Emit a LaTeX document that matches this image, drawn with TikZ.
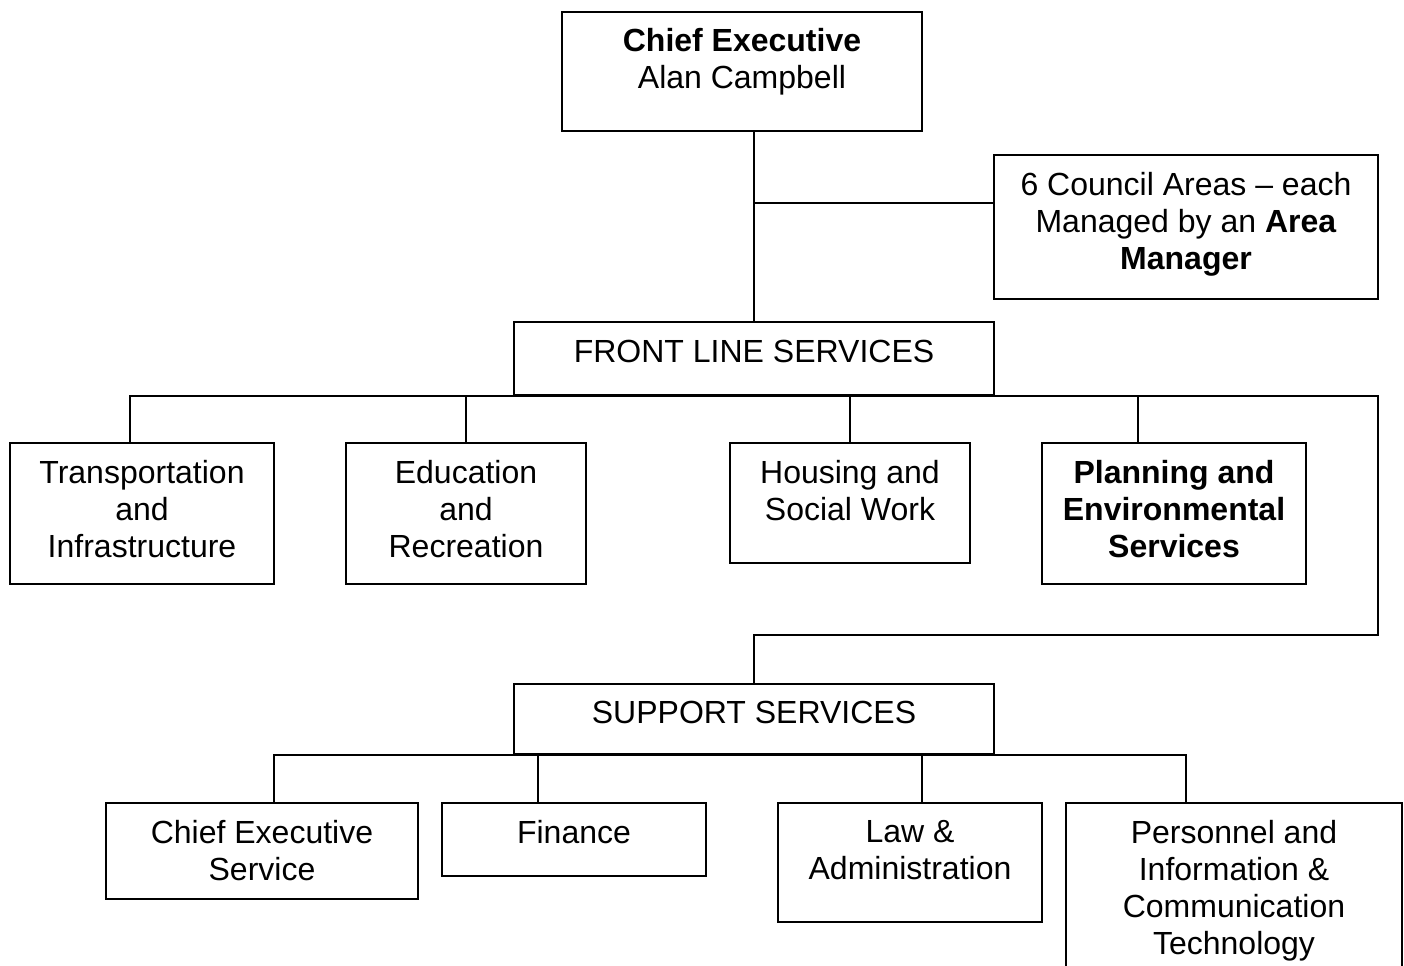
\documentclass[tikz,border=0pt]{standalone}
\usepackage{fontspec}
\setmainfont{Liberation Sans}
\usetikzlibrary{fit,calc}

\tikzset{every picture/.style={line width=1.5pt}}
\tikzset{
  unit/.style={draw, inner sep=0pt},
  boxtext/.style={anchor=north, align=center, inner sep=0pt,
    font=\fontsize{24}{27.75}\selectfont},
}

\begin{document}
\begin{tikzpicture}[x=0.75pt,y=0.75pt,yscale=-1,xscale=1]
	\useasboundingbox (0,0) rectangle (1404,966);

	% top of the chart
	\node[unit, fit={(562,12) (922,131)}] (chief) {};
	\node[unit, fit={(994,155) (1378,299)}] (council) {};
	\node[unit, fit={(514,322) (994,395)}] (front) {};

	% front line services
	\node[unit, fit={(10,443) (274,584)}] (trans) {};
	\node[unit, fit={(346,443) (586,584)}] (edu) {};
	\node[unit, fit={(730,443) (970,563)}] (house) {};
	\node[unit, fit={(1042,443) (1306,584)}] (plan) {};

	% support services
	\node[unit, fit={(514,684) (994,754)}] (support) {};
	\node[unit, fit={(106,803) (418,899)}] (cexs) {};
	\node[unit, fit={(442,803) (706,876)}] (finance) {};
	\node[unit, fit={(778,803) (1042,922)}] (law) {};
	\node[unit, fit={(1066,803) (1402,1000)}] (personnel) {};

	% Text Node
	\node[boxtext] (chief-t) at ($(chief.north)+(0,16)$) {\textbf{Chief Executive}\\Alan Campbell};
	% Text Node
	\node[boxtext] (council-t) at ($(council.north)+(0,17)$) {6 Council Areas \textendash{} each\\Managed by an \textbf{Area}\\\textbf{Manager}};
	% Text Node
	\node[boxtext] (front-t) at ($(front.north)+(0,18)$) {FRONT LINE SERVICES};
	% Text Node
	\node[boxtext] (trans-t) at ($(trans.north)+(0,17)$) {Transportation\\and\\Infrastructure};
	% Text Node
	\node[boxtext] (edu-t) at ($(edu.north)+(0,17)$) {Education\\and\\Recreation};
	% Text Node
	\node[boxtext] (house-t) at ($(house.north)+(0,17)$) {Housing and\\Social Work};
	% Text Node
	\node[boxtext, font=\fontsize{24}{27.75}\selectfont\bfseries] (plan-t) at ($(plan.north)+(0,17)$) {Planning and\\Environmental\\Services};
	% Text Node
	\node[boxtext] (support-t) at ($(support.north)+(0,17)$) {SUPPORT SERVICES};
	% Text Node
	\node[boxtext] (cexs-t) at ($(cexs.north)+(0,17)$) {Chief Executive\\Service};
	% Text Node
	\node[boxtext] (finance-t) at ($(finance.north)+(0,17)$) {Finance};
	% Text Node
	\node[boxtext] (law-t) at ($(law.north)+(0,17)$) {Law \&\\Administration};
	% Text Node
	\node[boxtext] (personnel-t) at ($(personnel.north)+(0,17)$) {Personnel and\\Information \&\\Communication\\Technology};

	% connectors
	\draw (chief.south -| front.north) -- (front.north);
	\draw ($(council.west)+(0,-24)$) -| (front.north);
	\draw (front.south) -| ($(trans.north)+(-12,0)$);
	\draw (front.south) -| (edu.north);
	\draw (front.south) -| (house.north);
	\draw (front.south) -| ($(plan.north)+(-36,0)$);
	\coordinate (bend) at (1378,635);
	\draw (front.south) -| (bend) -| (support.north);
	\draw (support.south) -| ($(cexs.north)+(12,0)$);
	\draw (support.south) -| ($(finance.north)+(-36,0)$);
	\draw (support.south) -| ($(law.north)+(12,0)$);
	\draw (support.south) -| ($(personnel.north)+(-48,0)$);

\end{tikzpicture}
\end{document}
